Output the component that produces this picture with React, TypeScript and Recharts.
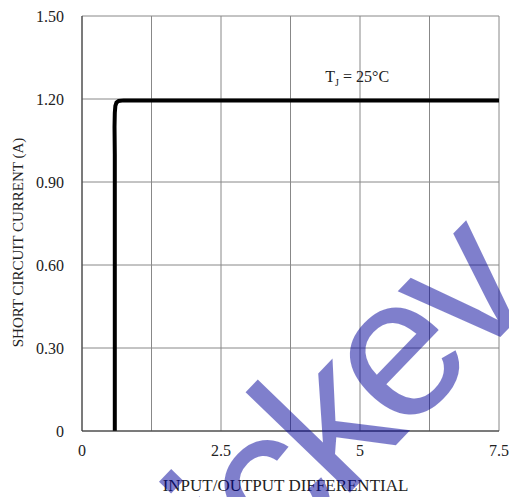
import React from "react";
import { LineChart, Line, XAxis, YAxis, CartesianGrid, ReferenceDot } from "recharts";

// Short circuit current vs input/output differential, Tj = 25C
const diffVolts = [0.59, 0.59, 0.585, 0.59, 0.6, 0.62, 0.66, 0.75, 7.5];
const currentAmps = [0, 1.0, 1.1, 1.15, 1.175, 1.187, 1.193, 1.195, 1.195];

const xTicks = [0, 1.25, 2.5, 3.75, 5, 6.25, 7.5];
const xLabels = ["0", "", "2.5", "", "5", "", "7.5"];
const yTicks = [0, 0.3, 0.6, 0.9, 1.2, 1.5];
const yLabels = ["0", "0.30", "0.60", "0.90", "1.20", "1.50"];

const data = diffVolts.map((v, i) => ({ v, amps: currentAmps[i] }));

const FONT = "'Liberation Serif', 'Times New Roman', serif";
const tickStyle = { fontFamily: FONT, fontSize: 16, fill: "#222" };

const TjLabel = (props: any) => {
  const { viewBox } = props;
  const cx = viewBox.x + viewBox.width / 2;
  const cy = viewBox.y + viewBox.height / 2;
  return (
    <text x={cx} y={cy + 5} textAnchor="middle" fontFamily={FONT} fontSize={16} fill="#222">
      T<tspan fontSize={10} dy={4}>J</tspan>
      <tspan dy={-4}> = 25°C</tspan>
    </text>
  );
};

// blue watermark that sits over the chart
const Watermark = () => (
  <svg width={509} height={497} style={{ position: "absolute", left: 0, top: 0, pointerEvents: "none" }}>
    <text
      transform="translate(254,592) rotate(-46)"
      fontFamily="'Liberation Sans', Arial, sans-serif"
      fontSize={200}
      letterSpacing={-10}
      fill="#000099"
      fillOpacity={0.5}
    >
      ickev
    </text>
  </svg>
);

export default function App() {
  return (
    <div style={{ position: "absolute", left: 0, top: 0, width: 509, height: 497, background: "#fff" }}>
      <LineChart width={509} height={497} data={data} margin={{ top: 16, right: 10, left: 0, bottom: 0 }}>
        <CartesianGrid stroke="#888" strokeWidth={1} />
        <XAxis
          dataKey="v"
          type="number"
          domain={[0, 7.5]}
          ticks={xTicks}
          tickFormatter={(t, i) => xLabels[i]}
          tickLine={false}
          tickSize={0}
          tickMargin={14}
          height={66}
          stroke="#333"
          tick={tickStyle}
          label={(p: any) => (
            <text
              x={p.viewBox.x + p.viewBox.width / 2 - 5}
              y={p.viewBox.y + 60}
              textAnchor="middle"
              fontFamily={FONT}
              fontSize={17}
              fill="#222"
            >
              INPUT/OUTPUT DIFFERENTIAL
            </text>
          )}
        />
        <YAxis
          type="number"
          domain={[0, 1.5]}
          ticks={yTicks}
          tickFormatter={(t, i) => yLabels[i]}
          tickLine={false}
          tickSize={0}
          tickMargin={18}
          width={82}
          stroke="#333"
          tick={tickStyle}
          label={(p: any) => {
            const x = p.viewBox.x + 23;
            const y = p.viewBox.y + p.viewBox.height / 2 + 19;
            return (
              <text
                x={x}
                y={y}
                transform={`rotate(-90 ${x} ${y})`}
                textAnchor="middle"
                fontFamily={FONT}
                fontSize={15}
                fill="#222"
              >
                SHORT CIRCUIT CURRENT (A)
              </text>
            );
          }}
        />
        <Line
          type="linear"
          dataKey="amps"
          stroke="#000"
          strokeWidth={4}
          dot={false}
          isAnimationActive={false}
        />
        <ReferenceDot x={4.95} y={1.28} r={0} fill="none" stroke="none" label={<TjLabel />} />
      </LineChart>
      <Watermark />
    </div>
  );
}
